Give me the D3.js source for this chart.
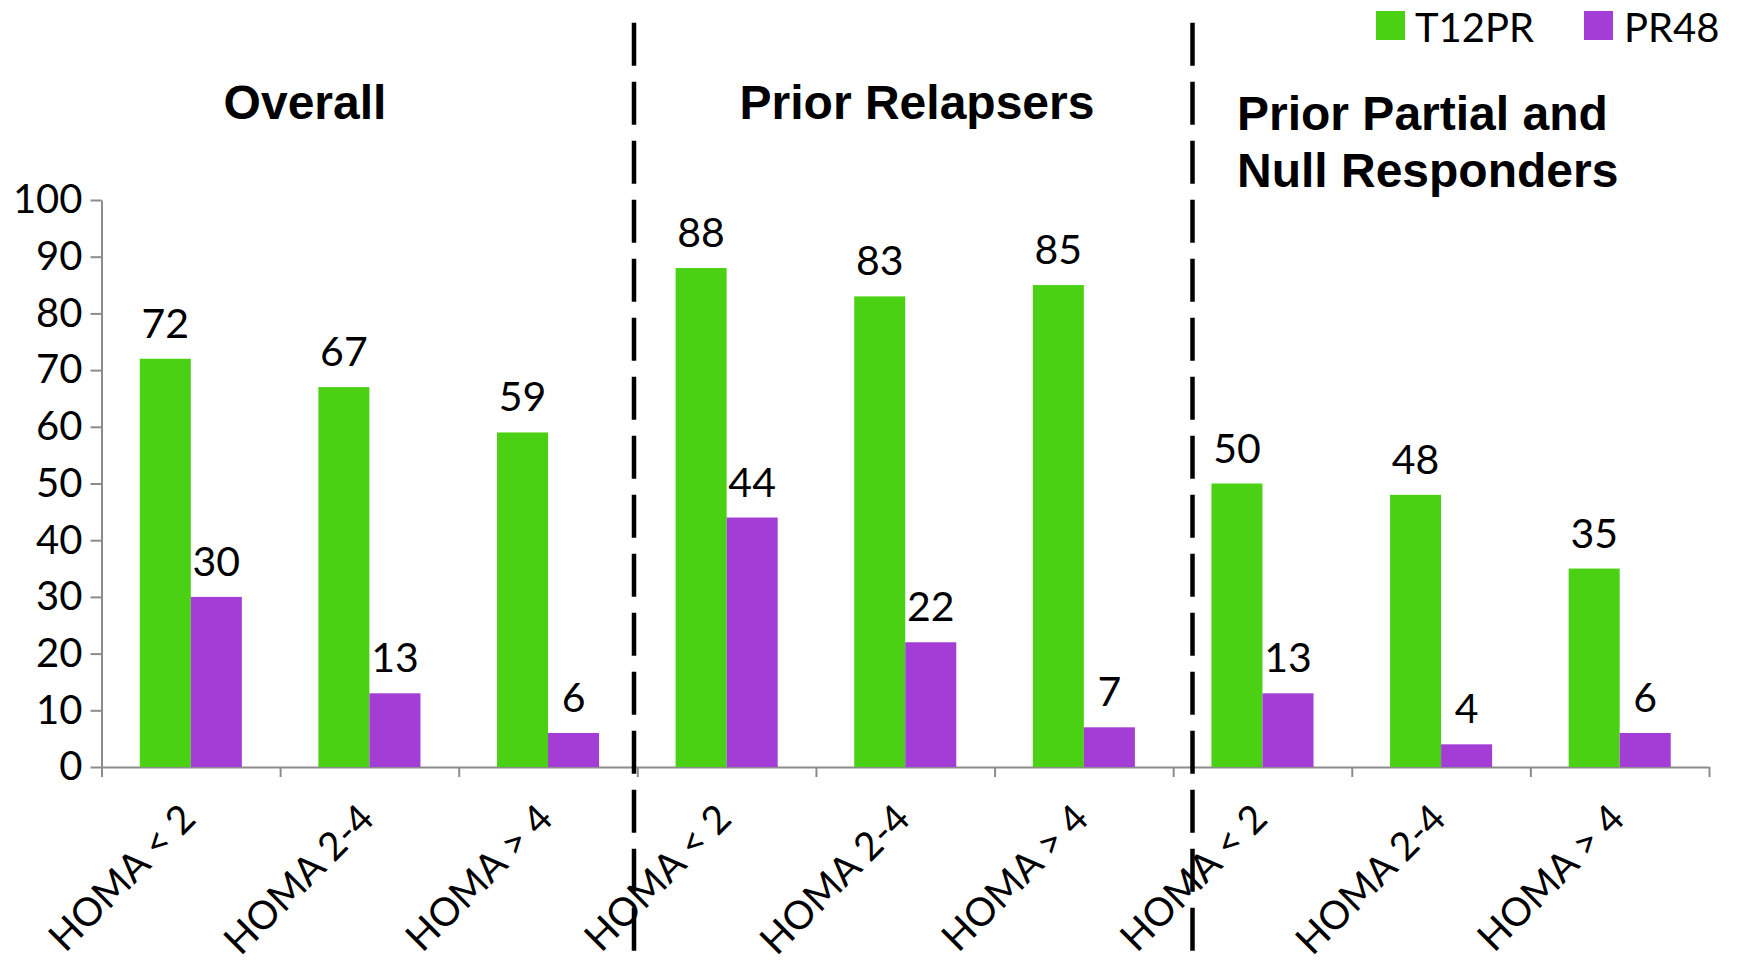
<!DOCTYPE html>
<html><head><meta charset="utf-8">
<script src="https://cdn.jsdelivr.net/npm/d3@7"></script>
<style>body{margin:0;background:#fff}svg{display:block}</style>
</head><body><svg id="c" width="1738" height="963"></svg>
<script>
const categories = ["HOMA < 2","HOMA 2-4","HOMA > 4","HOMA < 2","HOMA 2-4","HOMA > 4","HOMA < 2","HOMA 2-4","HOMA > 4"];
const groupTitles = ["Overall","Prior Relapsers"];
const groupTitle3 = ["Prior Partial and","Null Responders"];
const seriesNames = ["T12PR","PR48"];
const t12pr = [72,67,59,88,83,85,50,48,35];
const pr48 = [30,13,6,44,22,7,13,4,6];
const yTicks = [0,10,20,30,40,50,60,70,80,90,100];
const colors = ["#4bd114","#a33dd6"];

(function(){
const svg = d3.select("#c");
const plotLeft = 101.5, plotRight = 1709, plotTop = 200, plotBase = 767;

const x = d3.scaleBand().domain(d3.range(categories.length)).range([plotLeft,plotRight]).padding(0);
const xEdge = d3.scaleLinear().domain([0,categories.length]).range([plotLeft,plotRight]);
const inner = d3.scaleBand().domain([0,1]).range([0,x.bandwidth()]).paddingInner(0).paddingOuter(0.75);
const y = d3.scaleLinear().domain([0,100]).range([plotBase,plotTop]);

const numFont = "Lato, 'Open Sans', sans-serif";
const axisColor = "#8c8c8c";

// y axis
const ya = svg.append("g").attr("transform",`translate(${plotLeft},0)`)
  .call(d3.axisLeft(y).tickValues(yTicks).tickSize(11).tickSizeOuter(0).tickPadding(8));
ya.select(".domain").attr("stroke",axisColor).attr("stroke-width",2);
ya.selectAll(".tick line").attr("stroke",axisColor).attr("stroke-width",2);
ya.selectAll(".tick text").attr("font-family",numFont).attr("font-size",40).attr("fill","#000");

// x axis (ticks at band edges)
const xa = svg.append("g").attr("transform",`translate(0,${plotBase})`)
  .call(d3.axisBottom(xEdge).tickValues(d3.range(categories.length+1)).tickSize(10).tickSizeOuter(0).tickFormat(""));
xa.select(".domain").attr("stroke",axisColor).attr("stroke-width",2);
xa.selectAll(".tick line").attr("stroke",axisColor).attr("stroke-width",2);

// bars
const series = [t12pr, pr48];
series.forEach((vals,si)=>{
  svg.append("g").selectAll("rect").data(vals).join("rect")
    .attr("x",(d,i)=>x(i)+inner(si))
    .attr("y",d=>y(d))
    .attr("width",inner.bandwidth())
    .attr("height",d=>plotBase-y(d))
    .attr("fill",colors[si]);
  svg.append("g").selectAll("text").data(vals).join("text")
    .attr("x",(d,i)=>x(i)+inner(si)+inner.bandwidth()/2)
    .attr("y",d=>y(d)-21)
    .attr("text-anchor","middle")
    .attr("font-family",numFont).attr("font-size",41)
    .text(d=>d);
});

// category labels
svg.append("g").selectAll("text").data(categories).join("text")
  .attr("transform",(d,i)=>`translate(${x(i)+x.bandwidth()/2-3},811) rotate(-45)`)
  .attr("text-anchor","end").attr("dy","0.36em")
  .attr("font-family",numFont).attr("font-size",39)
  .text(d=>d);

// titles
const titleFont = "'Liberation Sans', Arial, sans-serif";
svg.append("text").attr("x",305).attr("y",119).attr("text-anchor","middle")
  .attr("font-family",titleFont).attr("font-weight","bold").attr("font-size",48).text(groupTitles[0]);
svg.append("text").attr("x",917).attr("y",119).attr("text-anchor","middle")
  .attr("font-family",titleFont).attr("font-weight","bold").attr("font-size",48).text(groupTitles[1]);
groupTitle3.forEach((t,i)=>{
  svg.append("text").attr("x",1237).attr("y",130+i*57)
    .attr("font-family",titleFont).attr("font-weight","bold").attr("font-size",48).text(t);
});

// dashed dividers
[634,1192.5].forEach(px=>{
  svg.append("line").attr("x1",px).attr("x2",px).attr("y1",22.7).attr("y2",951)
    .attr("stroke","#000").attr("stroke-width",4.5).attr("stroke-dasharray","43 16");
});

// legend
const leg = [[1376,1415],[1584,1624]];
seriesNames.forEach((n,i)=>{
  svg.append("rect").attr("x",leg[i][0]).attr("y",11).attr("width",29).attr("height",29).attr("fill",colors[i]);
  svg.append("text").attr("x",leg[i][1]).attr("y",42).attr("font-family",numFont).attr("font-size",40).text(n);
});
})();
</script></body></html>
